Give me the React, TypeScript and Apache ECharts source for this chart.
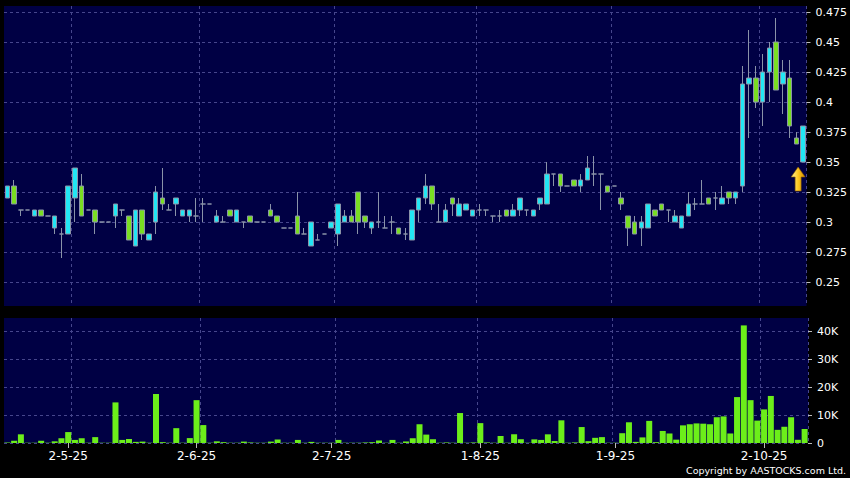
import React, { useEffect, useRef } from 'react';
import * as echarts from 'echarts';

// Trading days shown (days without trades are omitted from the chart)
const aprDays = [16, 17, 22, 23, 24, 25, 28, 29, 30];
const mayDays = [2, 6, 8, 9, 12, 13, 14, 15, 16, 19, 20, 21, 22, 23, 26, 27, 28, 29, 30];
const junDays = [2, 3, 4, 5, 6, 9, 11, 12, 13, 16, 17, 18, 19, 20, 23, 24, 25, 26, 27, 30];
const julDays = [2, 3, 4, 7, 8, 9, 10, 11, 14, 15, 16, 17, 18, 21, 22, 23, 24, 25, 28, 29, 30, 31];
const augDays = [1, 4, 5, 6, 7, 8, 11, 13, 14, 15, 18, 19, 20, 21, 22, 25, 26, 27, 28, 29];
const sepDays = [1, 2, 3, 4, 5, 8, 9, 10, 11, 12, 15, 16, 17, 18, 19, 22, 23, 24, 25, 26, 29, 30];
const octDays = [2, 3, 6, 8, 9, 10, 13];
const monthDays: [number, number[]][] = [[4, aprDays], [5, mayDays], [6, junDays], [7, julDays], [8, augDays], [9, sepDays], [10, octDays]];
const categories: string[] = [];
monthDays.forEach(([m, days]) => days.forEach((d) => categories.push(`${d}-${m}-25`)));

const labelAt = [9, 28, 48, 70, 90, 112];
const gridAt = [10, 29, 49, 70, 90, 112];

const opens = [
  0.32, 0.33, 0.31, 0.31, 0.305, 0.31, 0.305, 0.295, 0.29, 0.29,
  0.32, 0.33, 0.31, 0.31, 0.30, 0.30, 0.305, 0.31, 0.305, 0.28,
  0.31, 0.285, 0.30, 0.32, 0.31, 0.315, 0.305, 0.305, 0.305, 0.315,
  0.315, 0.30, 0.30, 0.31, 0.30, 0.30, 0.305, 0.30, 0.30, 0.31,
  0.305, 0.295, 0.295, 0.305, 0.29, 0.28, 0.285, 0.29, 0.295, 0.29,
  0.30, 0.305, 0.325, 0.305, 0.295, 0.30, 0.295, 0.30, 0.295, 0.29,
  0.285, 0.31, 0.32, 0.33, 0.30, 0.30, 0.32, 0.305, 0.31, 0.305,
  0.31, 0.31, 0.305, 0.305, 0.31, 0.305, 0.31, 0.31, 0.305, 0.315,
  0.315, 0.34, 0.34, 0.33, 0.335, 0.33, 0.335, 0.34, 0.34, 0.33,
  0.33, 0.32, 0.305, 0.30, 0.295, 0.295, 0.31, 0.315, 0.31, 0.30,
  0.295, 0.305, 0.315, 0.315, 0.32, 0.32, 0.315, 0.325, 0.32, 0.33,
  0.415, 0.42, 0.40, 0.425, 0.45, 0.415, 0.42, 0.37, 0.35,
];
const closes = [
  0.33, 0.315, 0.31, 0.31, 0.31, 0.305, 0.305, 0.305, 0.29, 0.33,
  0.345, 0.305, 0.31, 0.30, 0.30, 0.30, 0.315, 0.31, 0.285, 0.31,
  0.29, 0.29, 0.325, 0.315, 0.31, 0.32, 0.31, 0.31, 0.305, 0.315,
  0.315, 0.305, 0.30, 0.305, 0.31, 0.30, 0.30, 0.30, 0.30, 0.305,
  0.30, 0.295, 0.295, 0.29, 0.29, 0.30, 0.285, 0.29, 0.30, 0.315,
  0.305, 0.30, 0.30, 0.30, 0.30, 0.30, 0.295, 0.30, 0.29, 0.29,
  0.31, 0.32, 0.33, 0.315, 0.30, 0.31, 0.315, 0.315, 0.315, 0.31,
  0.31, 0.31, 0.305, 0.305, 0.305, 0.31, 0.32, 0.31, 0.31, 0.32,
  0.34, 0.34, 0.33, 0.33, 0.33, 0.335, 0.345, 0.34, 0.34, 0.325,
  0.33, 0.315, 0.295, 0.29, 0.30, 0.315, 0.305, 0.31, 0.31, 0.305,
  0.305, 0.315, 0.315, 0.315, 0.315, 0.32, 0.32, 0.32, 0.325, 0.415,
  0.42, 0.40, 0.425, 0.445, 0.41, 0.425, 0.38, 0.365, 0.38,
];
const lows = [
  0.32, 0.315, 0.305, 0.31, 0.305, 0.305, 0.305, 0.29, 0.27, 0.29,
  0.30, 0.305, 0.31, 0.29, 0.30, 0.30, 0.295, 0.305, 0.285, 0.28,
  0.285, 0.285, 0.29, 0.31, 0.31, 0.305, 0.305, 0.30, 0.30, 0.30,
  0.315, 0.30, 0.30, 0.305, 0.30, 0.295, 0.30, 0.30, 0.30, 0.305,
  0.30, 0.295, 0.295, 0.29, 0.29, 0.28, 0.285, 0.29, 0.295, 0.28,
  0.30, 0.30, 0.29, 0.295, 0.29, 0.295, 0.295, 0.29, 0.29, 0.285,
  0.285, 0.30, 0.315, 0.31, 0.30, 0.30, 0.305, 0.305, 0.31, 0.305,
  0.305, 0.305, 0.30, 0.30, 0.305, 0.305, 0.305, 0.305, 0.305, 0.31,
  0.315, 0.33, 0.325, 0.33, 0.33, 0.325, 0.335, 0.33, 0.31, 0.325,
  0.33, 0.31, 0.28, 0.29, 0.28, 0.295, 0.305, 0.31, 0.30, 0.30,
  0.295, 0.305, 0.31, 0.315, 0.315, 0.31, 0.315, 0.315, 0.315, 0.325,
  0.37, 0.395, 0.38, 0.40, 0.41, 0.39, 0.37, 0.365, 0.35,
];
const highs = [
  0.33, 0.335, 0.31, 0.31, 0.31, 0.31, 0.305, 0.305, 0.295, 0.33,
  0.345, 0.34, 0.31, 0.31, 0.30, 0.30, 0.315, 0.31, 0.305, 0.31,
  0.31, 0.29, 0.33, 0.345, 0.315, 0.32, 0.31, 0.31, 0.32, 0.32,
  0.315, 0.31, 0.305, 0.31, 0.31, 0.30, 0.305, 0.30, 0.30, 0.315,
  0.305, 0.295, 0.295, 0.325, 0.295, 0.30, 0.29, 0.29, 0.30, 0.315,
  0.31, 0.31, 0.325, 0.305, 0.30, 0.325, 0.305, 0.305, 0.295, 0.295,
  0.31, 0.32, 0.34, 0.33, 0.315, 0.315, 0.32, 0.32, 0.315, 0.31,
  0.315, 0.31, 0.305, 0.31, 0.31, 0.315, 0.32, 0.31, 0.31, 0.32,
  0.35, 0.34, 0.34, 0.33, 0.335, 0.34, 0.355, 0.355, 0.34, 0.33,
  0.33, 0.325, 0.305, 0.305, 0.305, 0.315, 0.31, 0.315, 0.31, 0.31,
  0.305, 0.325, 0.32, 0.335, 0.32, 0.325, 0.33, 0.325, 0.325, 0.43,
  0.46, 0.43, 0.44, 0.45, 0.47, 0.435, 0.435, 0.375, 0.38,
];
const volumes = [
  200, 800, 3100, 100, 100, 800, 100, 600, 1700, 3900,
  1100, 1700, 100, 2100, 100, 100, 14500, 1100, 1400, 400,
  500, 100, 17500, 300, 100, 5300, 100, 1750, 15300, 6400,
  100, 600, 300, 100, 100, 500, 200, 100, 100, 500,
  1250, 100, 100, 1100, 100, 400, 100, 100, 100, 1100,
  100, 100, 100, 200, 300, 900, 100, 1100, 100, 550,
  1700, 6700, 3000, 1350, 100, 200, 100, 10700, 100, 200,
  7100, 200, 100, 2500, 100, 3100, 1350, 100, 1300, 1100,
  3100, 700, 8100, 100, 200, 5700, 650, 1850, 2100, 100,
  100, 3500, 7400, 400, 2000, 7900, 300, 4300, 3400, 1200,
  6300, 6700, 7000, 6900, 6700, 9200, 9500, 3400, 16400, 42000,
  15300, 8000, 12000, 16800, 4700, 5800, 9200, 1150, 5000,
];

const priceTicks = [0.25, 0.275, 0.3, 0.325, 0.35, 0.375, 0.4, 0.425, 0.45, 0.475];
const volumeTicks = [0, 10000, 20000, 30000, 40000];

const FONT = 'DejaVu Sans';
const GRID_LINE = { color: '#46468c', type: [3, 3] as number[], width: 1 };

export default function App() {
  const ref = useRef<HTMLDivElement>(null);
  useEffect(() => {
    if (!ref.current) return;
    const chart = echarts.init(ref.current, undefined, { renderer: 'svg' });
    const last = categories.length - 1;
    const candleData = opens.map((o, i) => [o, closes[i], lows[i], highs[i]]);
    const isLabel = (i: number) => labelAt.includes(i);
    const isGrid = (i: number) => gridAt.includes(i);
    const option: any = {
      animation: false,
      backgroundColor: '#000000',
      grid: [
        { left: 4, top: 6, width: 804, height: 300, show: true, backgroundColor: '#000044', borderWidth: 0 },
        { left: 4, top: 318, width: 804, height: 125, show: true, backgroundColor: '#000044', borderWidth: 0 },
      ],
      xAxis: [
        {
          type: 'category', gridIndex: 0, data: categories, boundaryGap: true,
          axisLine: { show: false }, axisTick: { show: false }, axisLabel: { show: false },
          splitLine: { show: true, interval: isGrid, lineStyle: GRID_LINE },
        },
        {
          type: 'category', gridIndex: 1, data: categories, boundaryGap: true,
          axisLine: { show: false },
          axisTick: { show: true, alignWithLabel: true, interval: isLabel, length: 5, lineStyle: { color: '#bbbbbb' } },
          axisLabel: { show: true, interval: isLabel, color: '#ffffff', fontSize: 12, fontFamily: FONT, margin: 7 },
          splitLine: { show: true, interval: isGrid, lineStyle: GRID_LINE },
        },
      ],
      yAxis: [
        {
          type: 'value', gridIndex: 0, position: 'right', min: 0.23, max: 0.48, scale: true,
          axisLine: { show: false },
          axisTick: { show: true, customValues: priceTicks, length: 4, lineStyle: { color: '#bbbbbb' } },
          axisLabel: {
            customValues: priceTicks, color: '#ffffff', fontSize: 11, fontFamily: FONT, margin: 9,
            formatter: (v: number) => String(+v.toFixed(3)),
          },
          splitLine: { show: true, lineStyle: GRID_LINE },
        },
        {
          type: 'value', gridIndex: 1, position: 'right', min: 0, max: 44643,
          axisLine: { show: false },
          axisTick: { show: true, customValues: volumeTicks, length: 4, lineStyle: { color: '#bbbbbb' } },
          axisLabel: {
            customValues: volumeTicks, color: '#ffffff', fontSize: 11, fontFamily: FONT, margin: 9,
            formatter: (v: number) => (v === 0 ? '0' : `${Math.round(v / 1000)}K`),
          },
          splitLine: { show: true, lineStyle: GRID_LINE },
        },
      ],
      series: [
        {
          type: 'candlestick', xAxisIndex: 0, yAxisIndex: 0, data: candleData, barWidth: 5,
          itemStyle: {
            color: '#22e6f4', color0: '#7ade22',
            borderColor: '#8a93a8', borderColor0: '#8a93a8', borderColorDoji: '#8a93a8', borderWidth: 1,
          },
          markPoint: {
            symbol: 'path://M7,0L14,10L10,10L10,24L4,24L4,10L0,10Z',
            symbolSize: [14, 24],
            symbolOffset: [-5, 17],
            label: { show: false },
            itemStyle: {
              color: new echarts.graphic.LinearGradient(0, 0, 1, 0, [
                { offset: 0, color: '#fff3a0' },
                { offset: 0.5, color: '#ffc81e' },
                { offset: 1, color: '#d08a00' },
              ]),
              borderColor: '#8a5a00', borderWidth: 0.6,
            },
            data: [{ coord: [categories[last], lows[last]] }],
          },
        },
        {
          type: 'bar', xAxisIndex: 1, yAxisIndex: 1, data: volumes, barWidth: 6,
          itemStyle: { color: '#6cee1a' },
        },
      ],
      graphic: [
        {
          type: 'text', right: 4, top: 465,
          style: { text: 'Copyright by AASTOCKS.com Ltd.', fill: '#ffffff', fontSize: 9.5, fontFamily: FONT },
        },
      ],
    };
    chart.setOption(option);
    return () => chart.dispose();
  }, []);
  return <div ref={ref} style={{ position: 'absolute', left: 0, top: 0, width: 850, height: 478 }} />;
}
